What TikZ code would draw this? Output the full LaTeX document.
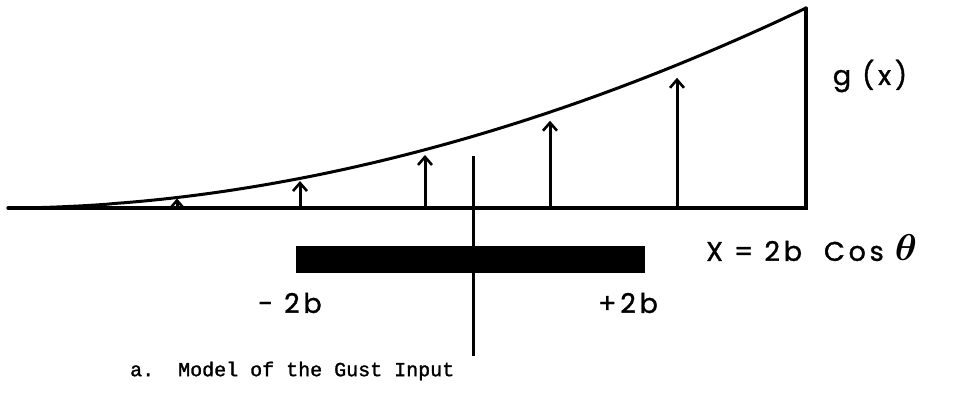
\documentclass[tikz,border=0pt]{standalone}
\usepackage{amsmath,bm}
\usepackage{fontspec}
\usepackage{tikz}
\usetikzlibrary{arrows.meta,positioning}
\newfontfamily\handfont[LetterSpace=14,FakeBold=1.2]{Poppins}
\newfontfamily\typefont[FakeBold=1.5]{Liberation Mono}
\tikzset{
  axisline/.style={line width=3.2pt,line cap=round},
  gustcurve/.style={line width=3pt},
  gustarrow/.style={-{Straight Barb[length=8pt,width=14pt,line width=2.6pt]},line width=3pt},
  handlabel/.style={font=\handfont\fontsize{27}{30}\selectfont,inner sep=0pt},
  caption/.style={font=\typefont\fontsize{20}{24}\selectfont,inner sep=0pt}
}
\begin{document}
\begin{tikzpicture}[x=1pt,y=-1pt]
\useasboundingbox (0,0) rectangle (954,397);
% gust profile
\coordinate (origin) at (8,208);
\coordinate (corner) at (806,208);
\coordinate (peak) at (806,8);
\draw[axisline] (origin) -- (corner) -- (peak);
\draw[gustcurve] plot[domain=8:806,samples=90] (\x,{208-200*((\x-8)/798)^1.9});
% gust velocity arrows
\foreach \xa in {177,300,425,550,677}{
  \pgfmathsetmacro{\ha}{0.91*200*((\xa-8)/798)^1.9}
  \draw[gustarrow] (\xa,208) -- ++(0,-\ha);
}
% wing chord and centre line
\coordinate (ctop) at (473,156);
\coordinate (cbot) at (473,356);
\fill (296,246) rectangle (645,273);
\draw[line width=3pt] (ctop) -- (cbot);
% labels
\node[handlabel] (gx) at (870,76) {g (x)};
\node[handlabel,anchor=west] (xdef) at (706,248) {X = 2b\ \ Cos\ \scalebox{1.5}{$\bm{\theta}$}};
\node[handlabel] (lefte) at (290,303) {-\ 2b};
\node[handlabel] (righte) at (628,303) {+2b};
\node[caption,anchor=west] (cap) at (130,371) {a.\ \ Model of the Gust Input};
\end{tikzpicture}
\end{document}
